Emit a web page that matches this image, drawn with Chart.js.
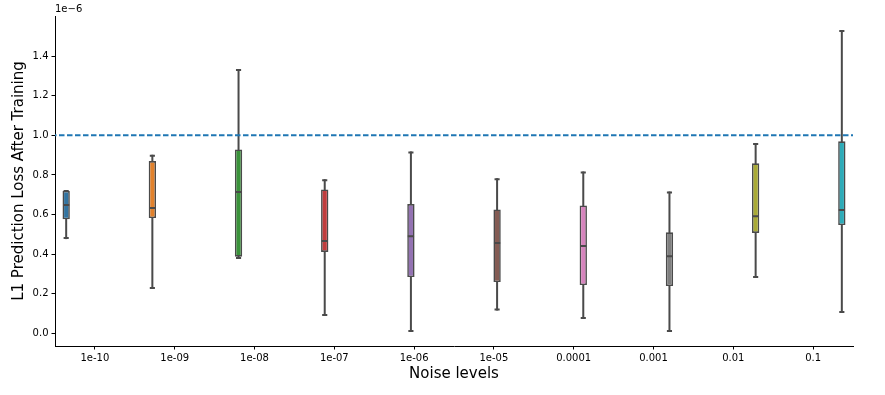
<!DOCTYPE html>
<html>
<head>
<meta charset="utf-8">
<script src="https://cdn.jsdelivr.net/npm/chart.js@4"></script>
<style>
  html, body { margin: 0; padding: 0; background: #fff; }
  #wrap { width: 885px; height: 395px; }
</style>
</head>
<body>
<div id="wrap"><canvas id="c" width="885" height="395"></canvas></div>
<script>
// ---- data (values in units of 1e-6) ----
const categories = ['1e-10', '1e-09', '1e-08', '1e-07', '1e-06', '1e-05', '0.0001', '0.001', '0.01', '0.1'];
const whiskerLow = [0.481, 0.229, 0.380, 0.092, 0.012, 0.121, 0.077, 0.012, 0.284, 0.108];
const q1         = [0.576, 0.582, 0.387, 0.411, 0.284, 0.259, 0.244, 0.239, 0.507, 0.547];
const median     = [0.648, 0.633, 0.714, 0.466, 0.490, 0.456, 0.441, 0.390, 0.592, 0.623];
const q3         = [0.719, 0.870, 0.929, 0.727, 0.653, 0.626, 0.646, 0.510, 0.859, 0.970];
const whiskerHigh= [0.719, 0.897, 1.330, 0.773, 0.914, 0.778, 0.813, 0.712, 0.956, 1.527];
const refLine = 1.0;
const yTicks = [0.0, 0.2, 0.4, 0.6, 0.8, 1.0, 1.2, 1.4];
const yExponentLabel = '1e\u22126';

const colors = ['#3274a1', '#e1812c', '#3a923a', '#c03d3e', '#9372b2', '#845b53', '#d684bd', '#7f7f7f', '#a9aa35', '#2eabb8'];
const lineGray = '#4a4a4a';

// seaborn-style dodge: 10 hue levels inside width 0.8
const nHue = categories.length;
const hueWidth = 0.8 / nHue;
const pos = categories.map((_, i) => i - 0.4 + hueWidth * (i + 0.5));
const boxHalf = hueWidth * 0.98 / 2;
const capHalf = boxHalf / 2;

const boxData = categories.map((_, i) => ({ x: pos[i], y: [q1[i], q3[i]] }));

const FONT = "'DejaVu Sans', sans-serif";

const boxPlugin = {
  id: 'boxParts',
  beforeDatasetsDraw(chart) {
    const ctx = chart.ctx, xs = chart.scales.x, ys = chart.scales.y;
    ctx.save();
    ctx.strokeStyle = lineGray;
    ctx.lineWidth = 2;
    ctx.lineCap = 'square';
    for (let i = 0; i < categories.length; i++) {
      const cx = xs.getPixelForValue(pos[i]);
      const pairs = [[whiskerLow[i], q1[i]], [q3[i], whiskerHigh[i]]];
      ctx.beginPath();
      for (const [a, b] of pairs) {
        if (a === b) continue;
        ctx.moveTo(cx, ys.getPixelForValue(a));
        ctx.lineTo(cx, ys.getPixelForValue(b));
      }
      ctx.stroke();
      ctx.beginPath();
      const l = xs.getPixelForValue(pos[i] - capHalf), r = xs.getPixelForValue(pos[i] + capHalf);
      for (const v of [whiskerLow[i], whiskerHigh[i]]) {
        const py = ys.getPixelForValue(v);
        ctx.moveTo(l, py); ctx.lineTo(r, py);
      }
      ctx.stroke();
    }
    ctx.restore();
  },
  afterDatasetDraw(chart, args) {
    if (args.index !== 0) return;
    const ctx = chart.ctx, xs = chart.scales.x, ys = chart.scales.y;
    ctx.save();
    ctx.strokeStyle = lineGray;
    ctx.lineWidth = 2;
    ctx.beginPath();
    for (let i = 0; i < categories.length; i++) {
      const py = ys.getPixelForValue(median[i]);
      ctx.moveTo(xs.getPixelForValue(pos[i] - boxHalf), py);
      ctx.lineTo(xs.getPixelForValue(pos[i] + boxHalf), py);
    }
    ctx.stroke();
    ctx.restore();
  },
  afterDraw(chart) {
    const ctx = chart.ctx;
    const area = chart.chartArea;
    ctx.save();
    ctx.fillStyle = '#000';
    ctx.font = "10px " + FONT;
    ctx.textAlign = 'left';
    ctx.textBaseline = 'bottom';
    ctx.fillText(yExponentLabel, area.left, area.top - 2);
    ctx.restore();
  }
};

new Chart(document.getElementById('c'), {
  type: 'bar',
  data: {
    datasets: [
      {
        type: 'bar',
        data: boxData,
        backgroundColor: colors,
        borderColor: lineGray,
        borderWidth: 1.6,
        borderSkipped: false,
        barPercentage: 0.092,
        categoryPercentage: 1,
        order: 1
      },
      {
        type: 'line',
        data: [{ x: -0.5, y: refLine }, { x: 9.5, y: refLine }],
        borderColor: '#1f77b4',
        borderWidth: 2,
        borderDash: [5.5, 2.5],
        borderDashOffset: 4,
        pointRadius: 0,
        fill: false,
        order: 0
      }
    ]
  },
  options: {
    responsive: false,
    animation: false,
    events: [],
    layout: { padding: { left: 10, right: 32, top: 16, bottom: 12 } },
    plugins: { legend: { display: false }, tooltip: { enabled: false } },
    scales: {
      x: {
        type: 'linear',
        min: -0.5, max: 9.5,
        offset: false,
        grid: { offset: false, drawOnChartArea: false, drawTicks: true, tickLength: 3.5, color: '#000', lineWidth: 1 },
        border: { display: true, color: '#000', width: 1 },
        afterBuildTicks(scale) { scale.ticks = categories.map((_, i) => ({ value: i })); },
        afterFit(scale) { scale.height = 37; },
        ticks: {
          autoSkip: false, maxRotation: 0, padding: 3,
          color: '#000', font: { family: FONT, size: 10 },
          callback: (v) => categories[Math.round(v)]
        },
        title: { display: true, text: 'Noise levels', color: '#000', padding: 0, font: { family: FONT, size: 15 } }
      },
      y: {
        type: 'linear',
        min: -0.064, max: 1.603,
        grid: { drawOnChartArea: false, drawTicks: true, tickLength: 3.5, color: '#000', lineWidth: 1 },
        border: { display: true, color: '#000', width: 1 },
        afterBuildTicks(scale) { scale.ticks = yTicks.map(v => ({ value: v })); },
        afterFit(scale) { scale.width = 45; },
        ticks: {
          padding: 3,
          color: '#000', font: { family: FONT, size: 10 },
          callback: (v) => Number(v).toFixed(1)
        },
        title: { display: true, text: 'L1 Prediction Loss After Training', color: '#000', padding: 0, font: { family: FONT, size: 15 } }
      }
    }
  },
  plugins: [boxPlugin]
});
</script>
</body>
</html>
